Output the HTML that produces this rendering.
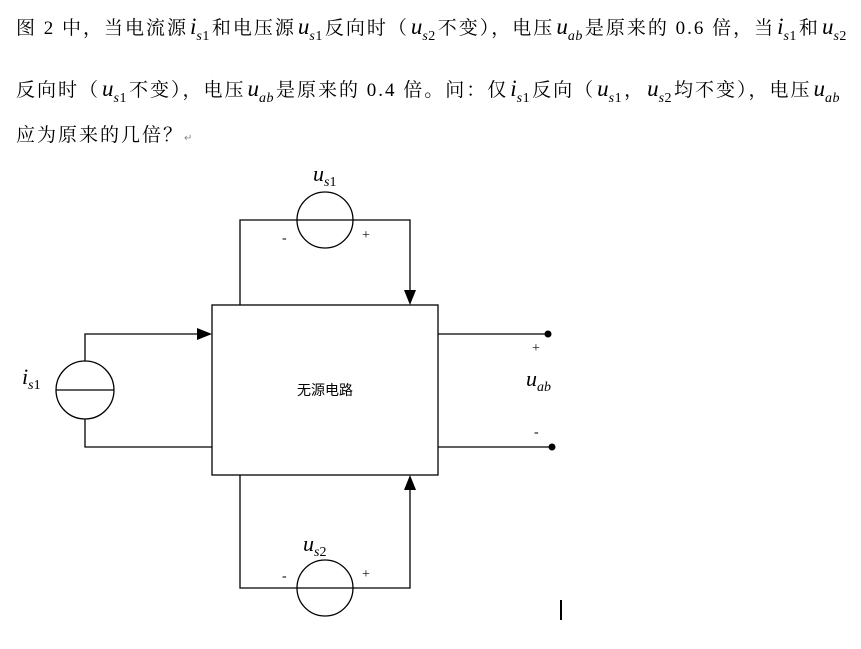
<!DOCTYPE html>
<html><head><meta charset="utf-8"><style>
body{margin:0;width:861px;height:649px;background:#fff;position:relative;overflow:hidden;font-family:"Liberation Serif","Noto Serif CJK SC","Noto Sans CJK SC",serif;color:#000}
.l{position:absolute;left:16px;font-size:19px;white-space:nowrap;line-height:20px;letter-spacing:2px}
i{font-family:"Liberation Serif",serif;font-size:23px;letter-spacing:0;margin-left:2px}
sub{font-size:14px;font-style:italic;vertical-align:-6px;line-height:0;letter-spacing:0.5px;margin-right:2px}
.r{font-style:normal}
</style></head><body>
<div class="l" style="top:17px">图 2 中，当电流源<i>i</i><sub>s<span class="r">1</span></sub>和电压源<i>u</i><sub>s<span class="r">1</span></sub>反向时（<i>u</i><sub>s<span class="r">2</span></sub>不变），电压<i>u</i><sub>ab</sub>是原来的 0.6 倍，当<i>i</i><sub>s<span class="r">1</span></sub>和<i>u</i><sub>s<span class="r">2</span></sub></div>
<div class="l" style="top:79px">反向时（<i>u</i><sub>s<span class="r">1</span></sub>不变），电压<i>u</i><sub>ab</sub>是原来的 0.4 倍。问：仅<i>i</i><sub>s<span class="r">1</span></sub>反向（<i>u</i><sub>s<span class="r">1</span></sub>，<i>u</i><sub>s<span class="r">2</span></sub>均不变），电压<i>u</i><sub>ab</sub></div>
<div class="l" style="top:126px">应为原来的几倍？<span style="font-size:10px;color:#888">↵</span></div>
<svg width="861" height="649" style="position:absolute;left:0;top:0" font-family="Liberation Serif, serif">
<g stroke="#000" stroke-width="1.3" fill="none">
<rect x="212" y="305" width="226" height="170"/>
<polyline points="240,305 240,220 410,220 410,292"/>
<polyline points="240,475 240,588 410,588 410,488"/>
<polyline points="85,361 85,334 199,334"/>
<polyline points="85,419 85,447 212,447"/>
<line x1="438" y1="334" x2="548" y2="334"/>
<line x1="438" y1="447" x2="552" y2="447"/>
<circle cx="325" cy="220" r="28"/>
<circle cx="325" cy="588" r="28"/>
<circle cx="85" cy="390" r="29"/>
<line x1="56" y1="390" x2="114" y2="390"/>
</g>
<g fill="#000">
<polygon points="404,290 416,290 410,305"/>
<polygon points="404,490 416,490 410,475"/>
<polygon points="197,328 197,340 212,334"/>
<circle cx="548" cy="334" r="3.5"/>
<circle cx="552" cy="447" r="3.5"/>
<rect x="560" y="600" width="2" height="20"/>
</g>
<g font-size="14">
<text x="282" y="242">-</text><text x="362" y="239">+</text>
<text x="282" y="580">-</text><text x="362" y="578">+</text>
<text x="532" y="352">+</text><text x="534" y="436">-</text>
</g>
<text x="325" y="395" font-size="14" text-anchor="middle" font-family="Noto Sans CJK SC, sans-serif">无源电路</text>
<text x="313" y="181" font-size="22" font-style="italic">u<tspan font-size="14" dy="5">s</tspan><tspan font-size="14" font-style="normal">1</tspan></text>
<text x="303" y="551" font-size="22" font-style="italic">u<tspan font-size="14" dy="5">s</tspan><tspan font-size="14" font-style="normal">2</tspan></text>
<text x="22" y="384" font-size="22" font-style="italic">i<tspan font-size="14" dy="5">s</tspan><tspan font-size="14" font-style="normal">1</tspan></text>
<text x="526" y="386" font-size="22" font-style="italic">u<tspan font-size="14" dy="5">ab</tspan></text>
</svg>
</body></html>
